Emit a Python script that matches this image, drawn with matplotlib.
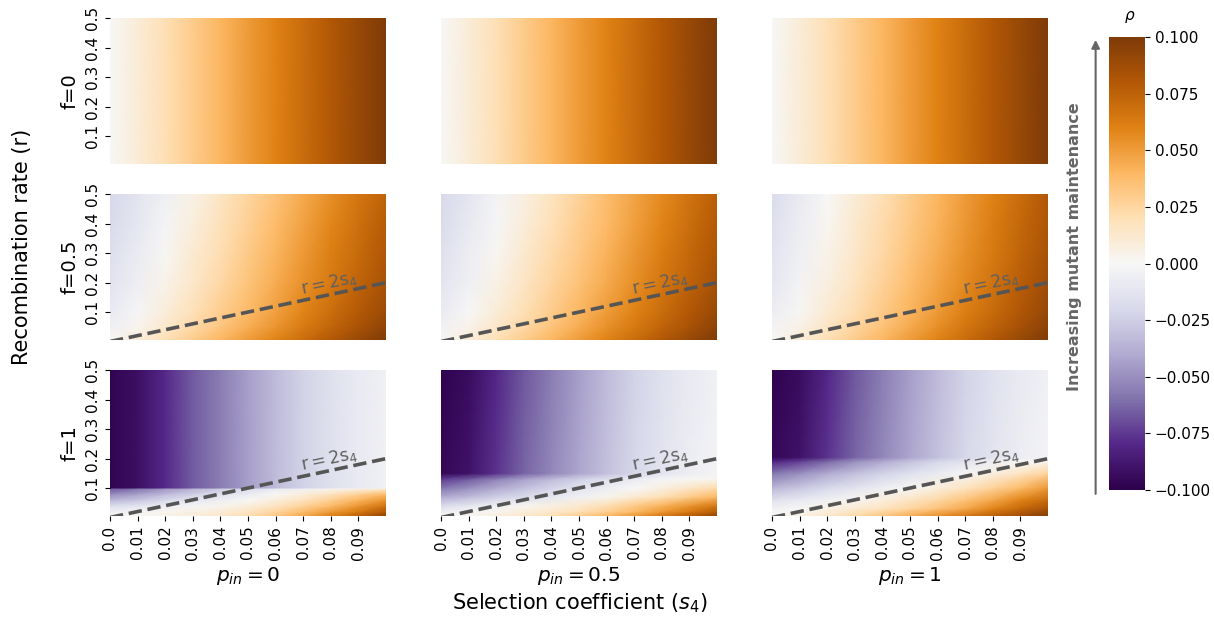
import numpy as np
import matplotlib
matplotlib.use("Agg")
import matplotlib.pyplot as plt
from matplotlib.ticker import FuncFormatter

# --------------------------------------------
# Data
# --------------------------------------------
s4 = [0.0, 0.01, 0.02, 0.03, 0.04, 0.05, 0.06, 0.07, 0.08, 0.09, 0.10]
p_in_labels = ["0", "0.5", "1"]
f_labels = ["f=0", "f=0.5", "f=1"]

# f = 0: rho only depends on s4 (same for every p_in)
r_f0 = [0.005, 0.5]
rho_f0_row = [0.0, 0.01, 0.02, 0.03, 0.04, 0.05, 0.06, 0.07, 0.08, 0.09, 0.10]

# f = 0.5
r_f05 = [0.005, 0.05, 0.1, 0.2, 0.3, 0.4, 0.5]
rho_f05_p0 = [
    [0.000, 0.010, 0.020, 0.030, 0.040, 0.050, 0.060, 0.070, 0.080, 0.090, 0.100],
    [-0.005, 0.003, 0.013, 0.023, 0.033, 0.043, 0.053, 0.063, 0.073, 0.083, 0.093],
    [-0.009, -0.001, 0.009, 0.019, 0.029, 0.039, 0.049, 0.059, 0.069, 0.079, 0.089],
    [-0.014, -0.006, 0.004, 0.014, 0.024, 0.034, 0.044, 0.054, 0.064, 0.074, 0.084],
    [-0.017, -0.008, 0.001, 0.011, 0.021, 0.031, 0.041, 0.051, 0.061, 0.071, 0.081],
    [-0.019, -0.011, -0.002, 0.008, 0.018, 0.028, 0.038, 0.048, 0.058, 0.068, 0.078],
    [-0.021, -0.013, -0.005, 0.005, 0.015, 0.025, 0.035, 0.045, 0.055, 0.065, 0.075],
]
rho_f05_p05 = [
    [0.000, 0.010, 0.020, 0.030, 0.040, 0.050, 0.060, 0.070, 0.080, 0.090, 0.100],
    [-0.004, 0.004, 0.014, 0.024, 0.034, 0.044, 0.054, 0.064, 0.074, 0.084, 0.094],
    [-0.008, 0.000, 0.010, 0.020, 0.030, 0.040, 0.050, 0.060, 0.070, 0.080, 0.090],
    [-0.013, -0.005, 0.005, 0.015, 0.025, 0.035, 0.045, 0.055, 0.065, 0.075, 0.085],
    [-0.016, -0.007, 0.002, 0.012, 0.022, 0.032, 0.042, 0.052, 0.062, 0.072, 0.082],
    [-0.018, -0.010, -0.001, 0.009, 0.019, 0.029, 0.039, 0.049, 0.059, 0.069, 0.079],
    [-0.020, -0.012, -0.003, 0.007, 0.017, 0.027, 0.037, 0.047, 0.057, 0.067, 0.077],
]
rho_f05_p1 = [
    [0.000, 0.010, 0.020, 0.030, 0.040, 0.050, 0.060, 0.070, 0.080, 0.090, 0.100],
    [-0.003, 0.005, 0.015, 0.025, 0.035, 0.045, 0.055, 0.065, 0.075, 0.085, 0.095],
    [-0.007, 0.001, 0.011, 0.021, 0.031, 0.041, 0.051, 0.061, 0.071, 0.081, 0.091],
    [-0.011, -0.003, 0.007, 0.017, 0.027, 0.037, 0.047, 0.057, 0.067, 0.077, 0.087],
    [-0.014, -0.005, 0.004, 0.014, 0.024, 0.034, 0.044, 0.054, 0.064, 0.074, 0.084],
    [-0.016, -0.007, 0.002, 0.012, 0.022, 0.032, 0.042, 0.052, 0.062, 0.072, 0.082],
    [-0.018, -0.009, 0.000, 0.010, 0.020, 0.030, 0.040, 0.050, 0.060, 0.070, 0.080],
]

# f = 1 (each p_in has its own r grid, dense around the sharp edge)
r_f1_p0 = [0.005, 0.02, 0.04, 0.06, 0.08, 0.099, 0.101, 0.5]
rho_f1_p0 = [
    [0.000, 0.002, 0.005, 0.009, 0.014, 0.021, 0.032, 0.046, 0.061, 0.076, 0.094],
    [-0.005, -0.002, 0.002, 0.006, 0.010, 0.016, 0.025, 0.037, 0.050, 0.064, 0.080],
    [-0.018, -0.013, -0.007, -0.002, 0.003, 0.008, 0.016, 0.026, 0.038, 0.052, 0.067],
    [-0.036, -0.029, -0.021, -0.013, -0.006, 0.000, 0.008, 0.017, 0.028, 0.040, 0.053],
    [-0.052, -0.044, -0.034, -0.025, -0.016, -0.008, 0.000, 0.008, 0.017, 0.027, 0.037],
    [-0.068, -0.060, -0.048, -0.038, -0.028, -0.018, -0.010, -0.004, 0.001, 0.004, 0.008],
    [-0.097, -0.092, -0.079, -0.066, -0.056, -0.044, -0.033, -0.023, -0.015, -0.009, -0.004],
    [-0.097, -0.092, -0.079, -0.066, -0.056, -0.044, -0.033, -0.023, -0.015, -0.009, -0.004],
]
r_f1_p05 = [0.005, 0.02, 0.04, 0.07, 0.1, 0.13, 0.15, 0.5]
rho_f1_p05 = [
    [0.000, 0.003, 0.008, 0.014, 0.021, 0.030, 0.040, 0.052, 0.065, 0.079, 0.093],
    [-0.006, -0.002, 0.003, 0.008, 0.013, 0.019, 0.028, 0.039, 0.051, 0.064, 0.078],
    [-0.018, -0.011, -0.004, 0.002, 0.007, 0.013, 0.021, 0.031, 0.042, 0.053, 0.065],
    [-0.040, -0.033, -0.025, -0.018, -0.011, -0.004, 0.003, 0.011, 0.020, 0.030, 0.040],
    [-0.058, -0.050, -0.040, -0.031, -0.022, -0.014, -0.007, 0.000, 0.007, 0.015, 0.022],
    [-0.075, -0.066, -0.054, -0.043, -0.033, -0.024, -0.015, -0.008, -0.002, 0.001, 0.003],
    [-0.096, -0.090, -0.077, -0.064, -0.053, -0.042, -0.031, -0.021, -0.013, -0.007, -0.002],
    [-0.098, -0.093, -0.080, -0.067, -0.056, -0.044, -0.033, -0.023, -0.015, -0.009, -0.004],
]
r_f1_p1 = [0.005, 0.03, 0.06, 0.1, 0.15, 0.19, 0.205, 0.5]
rho_f1_p1 = [
    [0.000, 0.006, 0.014, 0.023, 0.033, 0.044, 0.055, 0.066, 0.077, 0.088, 0.098],
    [-0.004, 0.000, 0.005, 0.011, 0.017, 0.025, 0.035, 0.046, 0.059, 0.072, 0.084],
    [-0.015, -0.010, -0.004, 0.002, 0.008, 0.015, 0.024, 0.034, 0.046, 0.059, 0.071],
    [-0.035, -0.028, -0.020, -0.013, -0.006, 0.000, 0.008, 0.017, 0.027, 0.039, 0.052],
    [-0.058, -0.050, -0.040, -0.031, -0.023, -0.015, -0.008, -0.001, 0.007, 0.016, 0.026],
    [-0.082, -0.073, -0.062, -0.050, -0.040, -0.030, -0.021, -0.013, -0.006, 0.000, 0.003],
    [-0.096, -0.090, -0.077, -0.064, -0.053, -0.042, -0.031, -0.021, -0.013, -0.007, -0.002],
    [-0.098, -0.093, -0.080, -0.067, -0.056, -0.044, -0.033, -0.023, -0.015, -0.009, -0.004],
]

panels = [
    [(r_f0, [rho_f0_row, rho_f0_row])] * 3,
    [(r_f05, rho_f05_p0), (r_f05, rho_f05_p05), (r_f05, rho_f05_p1)],
    [(r_f1_p0, rho_f1_p0), (r_f1_p05, rho_f1_p05), (r_f1_p1, rho_f1_p1)],
]

x_ticks = [0.0, 0.01, 0.02, 0.03, 0.04, 0.05, 0.06, 0.07, 0.08, 0.09]
x_ticklabels = ["0.0", "0.01", "0.02", "0.03", "0.04", "0.05", "0.06", "0.07", "0.08", "0.09"]
y_ticks = [0.1, 0.2, 0.3, 0.4, 0.5]
line_s = [0.0, 0.1]
line_r = [0.0, 0.2]
cbar_ticks = [-0.1, -0.075, -0.05, -0.025, 0.0, 0.025, 0.05, 0.075, 0.1]

# --------------------------------------------
# Layout
# --------------------------------------------
fig = plt.figure(figsize=(12.14, 6.17), dpi=100)
col_left = [0.0906, 0.3633, 0.6359]
row_bottom = [0.7342, 0.4489, 0.1637]
w, h = 0.2273, 0.2360

cmap = plt.get_cmap("PuOr_r")
mesh = None
for i in range(3):
    for j in range(3):
        ax = fig.add_axes([col_left[j], row_bottom[i], w, h])
        r_vals, z = panels[i][j]
        S, R = np.meshgrid(s4, r_vals)
        mesh = ax.pcolormesh(S, R, np.array(z), cmap=cmap, vmin=-0.1, vmax=0.1,
                             shading="gouraud", rasterized=True)
        ax.set_xlim(0, 0.1)
        ax.set_ylim(0.005, 0.5)
        for sp in ax.spines.values():
            sp.set_visible(False)

        if i > 0:
            ax.plot(line_s, line_r, ls="--", lw=2.6, color="#555555")
            ax.text(0.0795, 0.197, r"$\mathrm{r = 2s_4}$", rotation=12,
                    ha="center", va="center", fontsize=12.5, color="#606060")

        if j == 0:
            ax.set_yticks(y_ticks)
            ax.set_yticklabels([str(t) for t in y_ticks], rotation=90, va="center",
                               fontsize=11)
            ax.set_ylabel(f_labels[i], fontsize=14)
        else:
            ax.set_yticks([])

        if i == 2:
            ax.set_xticks(x_ticks)
            ax.set_xticklabels(x_ticklabels, rotation=90, fontsize=11)
            ax.set_xlabel(r"$p_{in} = $" + "$" + p_in_labels[j] + "$", fontsize=14.5)
        else:
            ax.set_xticks([])

fig.text(0.018, 0.6, "Recombination rate (r)", rotation=90, ha="center",
         va="center", fontsize=15)
fig.text(0.4775, 0.022, r"Selection coefficient ($s_4$)", ha="center",
         va="center", fontsize=15)

# colorbar
cax = fig.add_axes([0.9135, 0.2058, 0.0297, 0.7342])
cb = fig.colorbar(mesh, cax=cax, ticks=cbar_ticks,
                  format=FuncFormatter(lambda v, pos: f"{v:.3f}".replace("-", "\u2212")))
cb.outline.set_visible(False)
cb.ax.tick_params(labelsize=11)
fig.text(0.9305, 0.972, r"$\rho$", ha="center", va="center", fontsize=11)

# arrow + note
fig.patches.append(matplotlib.patches.FancyArrowPatch(
    (0.9025, 0.195), (0.9025, 0.94), transform=fig.transFigure,
    arrowstyle="-|>", mutation_scale=12, lw=1.5, color="#666666"))
fig.text(0.8855, 0.6, "Increasing mutant maintenance", rotation=90, ha="center",
         va="center", fontsize=11.5, fontweight="bold", color="#666666")

fig.savefig("out.png", dpi=100)
